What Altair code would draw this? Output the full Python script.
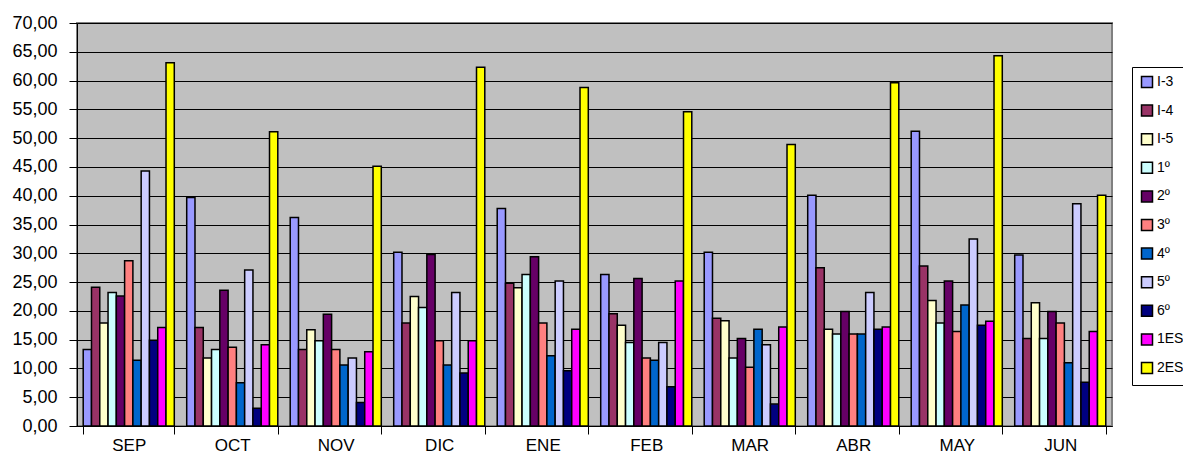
import altair as alt
import pandas as pd

months = ["SEP", "OCT", "NOV", "DIC", "ENE", "FEB", "MAR", "ABR", "MAY", "JUN"]
series = ["I-3", "I-4", "I-5", "1º", "2º", "3º", "4º", "5º", "6º", "1ES", "2ES"]
colors = ["#9999FF", "#993366", "#FFFFCC", "#CCFFFF", "#660066", "#FF8080",
          "#0066CC", "#CCCCFF", "#000080", "#FF00FF", "#FFFF00"]

I_3 = [13.3, 39.7, 36.2, 30.2, 37.8, 26.3, 30.2, 40.1, 51.2, 29.7]
I_4 = [24.1, 17.1, 13.3, 17.9, 24.8, 19.5, 18.7, 27.5, 27.8, 15.2]
I_5 = [17.9, 11.8, 16.7, 22.5, 24.0, 17.5, 18.3, 16.8, 21.8, 21.4]
P1 = [23.2, 13.3, 14.8, 20.6, 26.3, 14.5, 11.8, 16.0, 17.9, 15.2]
P2 = [22.6, 23.6, 19.4, 29.8, 29.4, 25.6, 15.2, 19.9, 25.2, 19.9]
P3 = [28.7, 13.7, 13.3, 14.8, 17.9, 11.8, 10.2, 16.0, 16.4, 17.9]
P4 = [11.4, 7.5, 10.6, 10.6, 12.2, 11.4, 16.8, 16.0, 21.0, 11.0]
P5 = [44.3, 27.1, 11.8, 23.2, 25.2, 14.5, 14.1, 23.2, 32.5, 38.6]
P6 = [14.9, 3.1, 4.1, 9.2, 9.6, 6.8, 3.8, 16.8, 17.5, 7.6]
ES1 = [17.1, 14.1, 12.9, 14.8, 16.8, 25.2, 17.2, 17.2, 18.2, 16.4]
ES2 = [63.1, 51.1, 45.1, 62.3, 58.8, 54.6, 48.9, 59.6, 64.3, 40.1]

values = [I_3, I_4, I_5, P1, P2, P3, P4, P5, P6, ES1, ES2]

rows = []
for s, vals in zip(series, values):
    for m, v in zip(months, vals):
        rows.append({"mes": m, "serie": s, "valor": v})
df = pd.DataFrame(rows)

FONT = "Liberation Sans"

chart = alt.Chart(df).mark_bar(stroke="black", strokeWidth=1.5).encode(
    x=alt.X("mes:N", sort=months, title=None,
            scale=alt.Scale(paddingInner=0.12, paddingOuter=0.06),
            axis=alt.Axis(labelAngle=0, tickBand="extent", labelFontSize=17,
                          labelFont=FONT, labelColor="black", labelPadding=3,
                          tickSize=8, tickColor="black", domainColor="black",
                          domainWidth=1, grid=False)),
    xOffset=alt.XOffset("serie:N", sort=series, scale=alt.Scale(paddingInner=0, paddingOuter=0)),
    y=alt.Y("valor:Q", title=None,
            scale=alt.Scale(domain=[0, 70], nice=False),
            axis=alt.Axis(values=list(range(0, 75, 5)),
                          labelExpr="replace(format(datum.value, '.2f'), '.', ',')",
                          labelFontSize=18, labelFont=FONT, labelColor="black",
                          labelPadding=12, tickSize=8, tickColor="black",
                          domainColor="black", domainWidth=1,
                          grid=True, gridColor="black", gridWidth=1, gridOpacity=1)),
    color=alt.Color("serie:N", sort=series,
                    scale=alt.Scale(domain=series, range=colors),
                    legend=alt.Legend(title=None)),
).properties(
    width=1035, height=403,
    autosize=alt.AutoSizeParams(type="none"),
    padding={"left": 69, "top": 15, "right": 71, "bottom": 31},
).configure_view(
    fill="#C0C0C0", stroke="#808080", strokeWidth=2
).configure_legend(
    orient="none", legendX=1055, legendY=44, padding=8, rowPadding=10.6,
    strokeColor="black", fillColor="white", symbolType="square",
    symbolSize=121, symbolStrokeColor="black", symbolStrokeWidth=1.5,
    labelFontSize=14, labelFont=FONT, labelColor="black", labelOffset=3,
)

chart.save("out.html", embed_options={"renderer": "svg", "actions": False})
